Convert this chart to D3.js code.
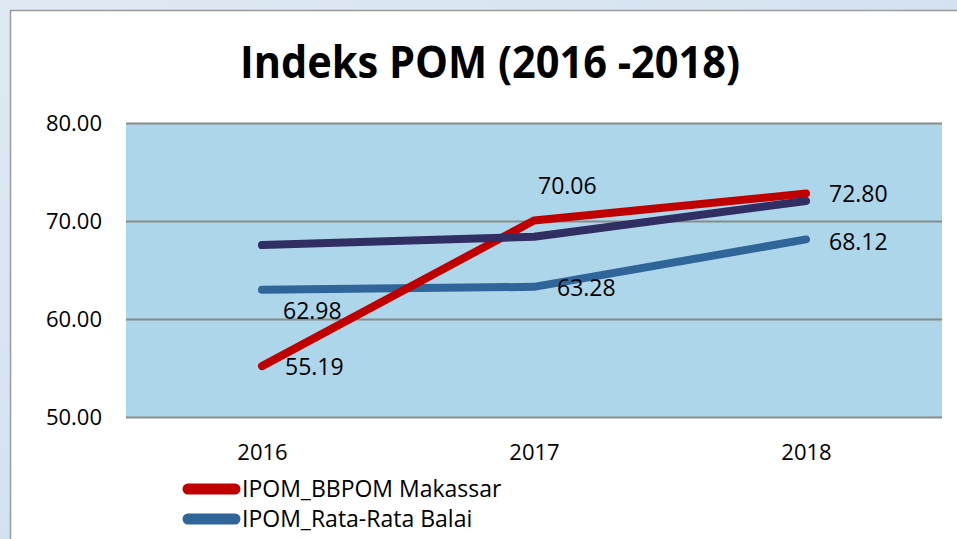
<!DOCTYPE html>
<html>
<head>
<meta charset="utf-8">
<script src="https://cdn.jsdelivr.net/npm/d3@7"></script>
<style>
  html, body { margin: 0; padding: 0; background: #fff; }
  svg { display: block; }
</style>
</head>
<body>
<div id="chart"></div>
<script>

var years = ['2016', '2017', '2018']
var yTicks = [50, 60, 70, 80]
var seriesNames = ['IPOM_BBPOM Makassar', 'IPOM_Rata-Rata Balai', 'IPOM_Nasional']
var makassar = [55.19, 70.06, 72.80]
var rataBalai = [62.98, 63.28, 68.12]
var nasional = [67.55, 68.4, 72.05]

var W = 957
	, H = 539
	, plot = {left: 126, right: 942, top: 123, bottom: 417}

// series drawn back to front, navy has no labels and no visible legend entry
var series = [
	{name: seriesNames[1], values: rataBalai, color: '#2f6598', labels: true,
	  // label offsets per point (dx, dy) from the point to the label's left/middle
	  offsets: [[21, 21], [23, 1], [23, 2]]}
	, {name: seriesNames[0], values: makassar, color: '#c00000', labels: true,
	  offsets: [[23, 1], [4, -35], [23, 0]]}
	, {name: seriesNames[2], values: nasional, color: '#312e63', labels: false}
]

var svg = d3.select('#chart').append('svg')
	.attr('width', W)
	.attr('height', H)

// slide background
var defs = svg.append('defs')
var grad = defs.append('linearGradient').attr('id', 'slide')
	.attr('x1', 0).attr('y1', 0).attr('x2', 1).attr('y2', 1)
grad.append('stop').attr('offset', 0).attr('stop-color', '#dfe9f3')
grad.append('stop').attr('offset', 1).attr('stop-color', '#c9dced')

svg.append('rect')
	.attr('width', W).attr('height', H)
	.attr('fill', 'url(#slide)')

// chart frame
svg.append('rect')
	.attr('x', 10.5).attr('y', 10.5)
	.attr('width', W + 20).attr('height', H + 20)
	.attr('fill', '#fff')
	.attr('stroke', '#9b9b9b')
	.attr('stroke-width', 1.5)

svg.append('text')
	.attr('x', 490)
	.attr('y', 78)
	.attr('text-anchor', 'middle')
	.style('font-family', '"Liberation Sans Narrow", "Open Sans", sans-serif')
	.style('font-weight', 'bold')
	.style('font-size', '44px')
	.attr('textLength', 500)
	.attr('lengthAdjust', 'spacingAndGlyphs')
	.text('Indeks POM (2016 -2018)')

var x = d3.scalePoint()
	.domain(years)
	.range([plot.left, plot.right])
	.padding(0.5)

var y = d3.scaleLinear()
	.domain([50, 80])
	.range([plot.bottom, plot.top])

// plot area
svg.append('rect')
	.attr('x', plot.left).attr('y', plot.top)
	.attr('width', plot.right - plot.left)
	.attr('height', plot.bottom - plot.top)
	.attr('fill', '#aed6ea')

// gridlines
svg.append('g').selectAll('line').data(yTicks)
  .enter()
	.append('line')
	.attr('x1', plot.left).attr('x2', plot.right)
	.attr('y1', function(d) { return Math.round(y(d)) + 0.5 })
	.attr('y2', function(d) { return Math.round(y(d)) + 0.5 })
	.attr('stroke', '#8a8a8a')
	.attr('stroke-width', 2)

var font = '"Open Sans", "Noto Sans", sans-serif'

// y axis labels
var yAxis = svg.append('g')
	.attr('transform', 'translate(' + (plot.left - 24) + ',0)')
	.call(d3.axisLeft(y).tickValues(yTicks).tickFormat(d3.format('.2f')).tickSize(0).tickPadding(0))
yAxis.select('.domain').remove()
yAxis.selectAll('text')
	.style('font-family', font)
	.style('font-size', '22px')
	.attr('fill', '#000')

// x axis labels
var xAxis = svg.append('g')
	.attr('transform', 'translate(0,' + plot.bottom + ')')
	.call(d3.axisBottom(x).tickSize(0).tickPadding(0))
xAxis.select('.domain').remove()
xAxis.selectAll('text')
	.attr('y', 43)
	.attr('dy', 0)
	.style('font-family', font)
	.style('font-size', '22px')
	.attr('fill', '#000')

var line = d3.line()
	.x(function(d, i) { return x(years[i]) })
	.y(function(d) { return y(d) })

svg.append('g').selectAll('path').data(series)
  .enter()
	.append('path')
	.attr('d', function(s) { return line(s.values) })
	.attr('fill', 'none')
	.attr('stroke', function(s) { return s.color })
	.attr('stroke-width', 8)
	.attr('stroke-linecap', 'round')
	.attr('stroke-linejoin', 'round')

// data labels
series.filter(function(s) { return s.labels }).forEach(function(s) {
	svg.append('g').selectAll('text').data(s.values)
	  .enter()
		.append('text')
		.attr('x', function(d, i) { return x(years[i]) + s.offsets[i][0] })
		.attr('y', function(d, i) { return y(d) + s.offsets[i][1] })
		.attr('dy', '0.36em')
		.style('font-family', font)
		.style('font-size', '23px')
		.text(function(d) { return d3.format('.2f')(d) })
})

// legend (third entry falls below the visible frame)
var legendItems = [series[1], series[0]]
var lg = svg.append('g').selectAll('g').data(legendItems)
  .enter()
	.append('g')
	.attr('transform', function(d, i) { return 'translate(0,' + (489 + i * 30) + ')' })

lg.append('line')
	.attr('x1', 188).attr('x2', 235)
	.attr('stroke', function(d) { return d.color })
	.attr('stroke-width', 11)
	.attr('stroke-linecap', 'round')

lg.append('text')
	.attr('x', 242)
	.attr('dy', '0.35em')
	.style('font-family', font)
	.style('font-size', '23px')
	.text(function(d) { return d.name })

</script>
</body>
</html>
